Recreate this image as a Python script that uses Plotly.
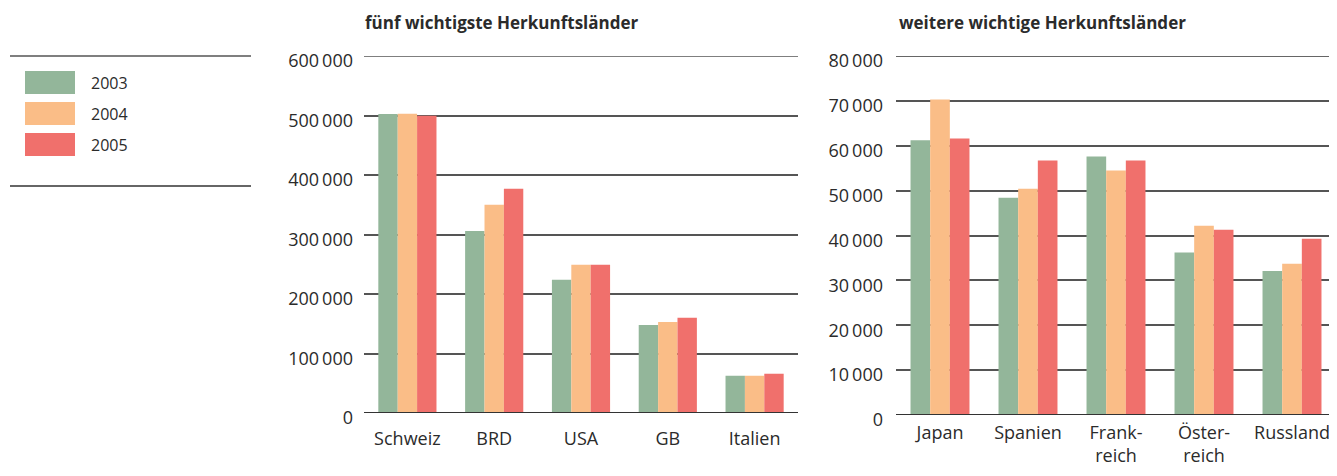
import plotly.graph_objects as go

years = ["2003", "2004", "2005"]
colors = ["#93B69A", "#FABD87", "#F0706C"]

top5_countries = ["Schweiz", "BRD", "USA", "GB", "Italien"]
top5_2003 = [502600, 306000, 224000, 148000, 62600]
top5_2004 = [503000, 350000, 249000, 153000, 62600]
top5_2005 = [499500, 377000, 249000, 160000, 66000]

more_countries = ["Japan", "Spanien", "Frank-<br>reich", "Öster-<br>reich", "Russland"]
more_2003 = [61200, 48400, 57600, 36200, 32100]
more_2004 = [70300, 50400, 54500, 42200, 33700]
more_2005 = [61600, 56700, 56700, 41300, 39300]

left_ticks = [0, 100000, 200000, 300000, 400000, 500000, 600000]
left_ticktext = ["0", "100\u2009000", "200\u2009000", "300\u2009000", "400\u2009000", "500\u2009000", "600\u2009000"]
right_ticks = [0, 10000, 20000, 30000, 40000, 50000, 60000, 70000, 80000]
right_ticktext = ["0", "10\u2009000", "20\u2009000", "30\u2009000", "40\u2009000", "50\u2009000", "60\u2009000", "70\u2009000", "80\u2009000"]

title_left = "fünf wichtigste Herkunftsländer"
title_right = "weitere wichtige Herkunftsländer"

# page has an 8px body margin: offset coordinates accordingly
OX, OY = 8, 8
W, H = 1337 - OX, 476 - 2 * OY
FONT = "Open Sans"
TXT = "#2b2b2b"
GRID = "#555555"

fig = go.Figure()
left_series = [top5_2003, top5_2004, top5_2005]
right_series = [more_2003, more_2004, more_2005]
for i, y in enumerate(years):
    fig.add_trace(go.Bar(x=top5_countries, y=left_series[i], name=y, marker=dict(color=colors[i], line=dict(width=0)),
                         xaxis="x", yaxis="y", showlegend=False))
    fig.add_trace(go.Bar(x=more_countries, y=right_series[i], name=y, marker=dict(color=colors[i], line=dict(width=0)),
                         xaxis="x2", yaxis="y2", showlegend=False))

def px_x(v):
    return min(1.0, max(0.0, (v - OX) / W))

def px_y(v):
    return min(1.0, max(0.0, 1 - (v - OY) / H))

axis_common = dict(showline=False, zeroline=False, ticks="", automargin=False)

fig.update_layout(
    width=W, height=H, autosize=False,
    margin=dict(l=0, r=0, t=0, b=0, pad=0),
    paper_bgcolor="white", plot_bgcolor="white",
    barmode="group", bargap=0.33, bargroupgap=0,
    showlegend=False,
    font=dict(family=FONT, color=TXT),
    xaxis=dict(domain=[px_x(364), px_x(798)], anchor="y", showgrid=False, ticklabelstandoff=13,
               tickfont=dict(family=FONT, size=18, color=TXT), **axis_common),
    yaxis=dict(domain=[px_y(413), px_y(56)], anchor="x", range=[0, 600000], tickvals=left_ticks, ticktext=left_ticktext,
               showgrid=True, gridcolor=GRID, gridwidth=1.6, ticklabelstandoff=10, ticklabelshift=5,
               tickfont=dict(family=FONT, size=18, color=TXT), **axis_common),
    xaxis2=dict(domain=[px_x(896), px_x(1336)], anchor="y2", showgrid=False, ticklabelstandoff=5,
                tickfont=dict(family=FONT, size=18, color=TXT), **axis_common),
    yaxis2=dict(domain=[px_y(415), px_y(56)], anchor="x2", range=[0, 80000], tickvals=right_ticks, ticktext=right_ticktext,
                showgrid=True, gridcolor=GRID, gridwidth=1.6, ticklabelstandoff=12, ticklabelshift=5,
                tickfont=dict(family=FONT, size=18, color=TXT), **axis_common),
)

# top gridlines (edge of range) and baselines
fig.add_shape(type="line", xref="x domain", yref="y", x0=0, x1=1, y0=left_ticks[-1], y1=left_ticks[-1], line=dict(color=GRID, width=1.6))
fig.add_shape(type="line", xref="x2 domain", yref="y2", x0=0, x1=1, y0=right_ticks[-1], y1=right_ticks[-1], line=dict(color="#333", width=1.6))
fig.add_shape(type="line", xref="x domain", yref="y", x0=0, x1=1, y0=0, y1=0, line=dict(color="#333", width=1.8))
fig.add_shape(type="line", xref="x2 domain", yref="y2", x0=0, x1=1, y0=0, y1=0, line=dict(color="#333", width=1.8))

# titles
fig.add_annotation(text="<b>" + title_left + "</b>", xref="paper", yref="paper", x=px_x(363), y=px_y(22),
                   xanchor="left", yanchor="middle", showarrow=False, font=dict(family=FONT, size=17, color=TXT))
fig.add_annotation(text="<b>" + title_right + "</b>", xref="paper", yref="paper", x=px_x(897), y=px_y(22),
                   xanchor="left", yanchor="middle", showarrow=False, font=dict(family=FONT, size=17, color=TXT))

# legend block
fig.add_shape(type="line", xref="paper", yref="paper", x0=px_x(10), x1=px_x(251), y0=px_y(56), y1=px_y(56),
              line=dict(color="#555", width=1.5))
fig.add_shape(type="line", xref="paper", yref="paper", x0=px_x(10), x1=px_x(251), y0=px_y(186), y1=px_y(186),
              line=dict(color="#333", width=1.5))
for i, y in enumerate(years):
    top = 71 + i * 31
    fig.add_shape(type="rect", xref="paper", yref="paper", x0=px_x(25), x1=px_x(75), y0=px_y(top + 23), y1=px_y(top),
                  fillcolor=colors[i], line=dict(width=0))
    fig.add_annotation(text=y, xref="paper", yref="paper", x=px_x(89), y=px_y(top + 12), xanchor="left", yanchor="middle",
                       showarrow=False, font=dict(family=FONT, size=16, color=TXT))

fig.write_html("out.html")
